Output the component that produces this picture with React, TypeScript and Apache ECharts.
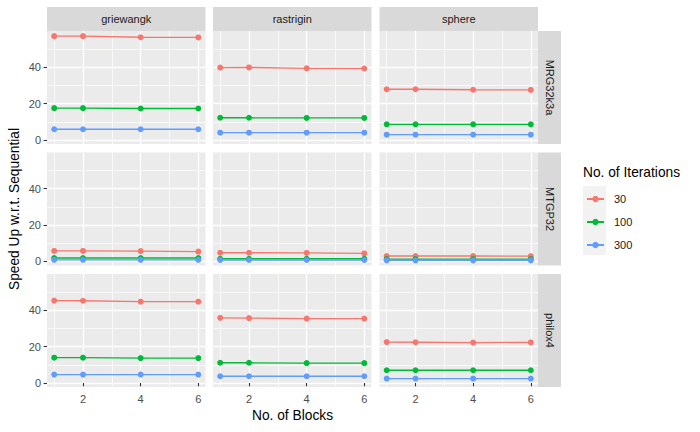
import React, { useEffect, useRef } from "react";
import * as echarts from "echarts";

const blocks = [1, 2, 4, 6];
const functionNames = ["griewangk", "rastrigin", "sphere"];
const generatorNames = ["MRG32k3a", "MTGP32", "philox4"];
const iterationLabels = ["30", "100", "300"];
const seriesColors = ["#F8766D", "#00BA38", "#619CFF"];
const yTicks = [0, 20, 40];
const yMinorTicks = [10, 30, 50];
const xTicks = [2, 4, 6];
const xMinorTicks = [1, 3, 5];

// each array: rows = iterations (30, 100, 300), columns = blocks (1, 2, 4, 6)
const mrg32k3aGriewangk = [[57.1, 57.1, 56.5, 56.4], [17.5, 17.5, 17.3, 17.3], [5.9, 5.9, 5.9, 5.9]];
const mrg32k3aRastrigin = [[39.8, 39.9, 39.4, 39.3], [12.2, 12.2, 12.1, 12.1], [4.0, 4.0, 4.0, 4.0]];
const mrg32k3aSphere = [[27.9, 27.9, 27.6, 27.5], [8.6, 8.6, 8.6, 8.6], [2.9, 2.9, 2.9, 2.9]];
const mtgp32Griewangk = [[5.8, 5.8, 5.7, 5.4], [1.9, 1.9, 1.9, 1.9], [0.9, 0.9, 0.9, 0.9]];
const mtgp32Rastrigin = [[4.8, 4.8, 4.7, 4.4], [1.5, 1.5, 1.5, 1.5], [0.8, 0.8, 0.8, 0.8]];
const mtgp32Sphere = [[3.0, 3.0, 3.0, 2.9], [1.3, 1.3, 1.3, 1.3], [0.6, 0.6, 0.6, 0.6]];
const philox4Griewangk = [[45.3, 45.2, 44.7, 44.7], [13.9, 13.9, 13.7, 13.7], [4.6, 4.6, 4.6, 4.6]];
const philox4Rastrigin = [[35.8, 35.7, 35.4, 35.4], [11.1, 11.1, 10.9, 10.9], [3.7, 3.7, 3.7, 3.7]];
const philox4Sphere = [[22.5, 22.4, 22.2, 22.3], [7.0, 7.0, 7.0, 7.0], [2.4, 2.4, 2.4, 2.4]];

const panelData = [
  [mrg32k3aGriewangk, mrg32k3aRastrigin, mrg32k3aSphere],
  [mtgp32Griewangk, mtgp32Rastrigin, mtgp32Sphere],
  [philox4Griewangk, philox4Rastrigin, philox4Sphere],
];

const FONT = "'Liberation Sans', Arial, sans-serif";
const colLefts = [47, 213, 379.5];
const panelW = 158.5;
const rowTops = [31, 152.5, 274];
const panelH = 113;

export default function App() {
  const ref = useRef<HTMLDivElement>(null);
  useEffect(() => {
    document.body.style.margin = "0";
    if (!ref.current) return;
    const chart = echarts.init(ref.current, undefined, { renderer: "svg" });

    const allVals = panelData.flat(3) as number[];
    const dMin = Math.min(...allVals);
    const dMax = Math.max(...allVals);
    const yMin = dMin - 0.05 * (dMax - dMin);
    const yMax = dMax + 0.05 * (dMax - dMin);
    const xMin = blocks[0] - 0.05 * (blocks[blocks.length - 1] - blocks[0]);
    const xMax = blocks[blocks.length - 1] + 0.05 * (blocks[blocks.length - 1] - blocks[0]);

    const grids: any[] = [];
    const xAxes: any[] = [];
    const yAxes: any[] = [];
    const series: any[] = [];
    const graphics: any[] = [];

    for (let r = 0; r < 3; r++) {
      for (let c = 0; c < 3; c++) {
        const g = grids.length;
        grids.push({
          left: colLefts[c],
          top: rowTops[r],
          width: panelW,
          height: panelH,
          show: true,
          backgroundColor: "#EBEBEB",
          borderWidth: 0,
        });
        const showX = r === 2;
        const showY = c === 0;
        xAxes.push({
          type: "value",
          gridIndex: g,
          min: xMin,
          max: xMax,
          position: "bottom",
          axisLine: { show: false },
          axisTick: { show: showX, customValues: xTicks, length: 3.4, lineStyle: { color: "#333333", width: 1.1 } },
          axisLabel: { show: showX, customValues: xTicks, color: "#4D4D4D", fontSize: 11, margin: 6, fontFamily: FONT },
          splitLine: { show: true, customValues: xTicks, lineStyle: { color: "#FFFFFF", width: 1.3 } },
        });
        xAxes.push({
          type: "value",
          gridIndex: g,
          min: xMin,
          max: xMax,
          position: "bottom",
          axisLine: { show: false },
          axisTick: { show: false, customValues: xMinorTicks },
          axisLabel: { show: false, customValues: xMinorTicks },
          splitLine: { show: true, customValues: xMinorTicks, lineStyle: { color: "#FFFFFF", width: 0.7 } },
        });
        yAxes.push({
          type: "value",
          gridIndex: g,
          min: yMin,
          max: yMax,
          position: "left",
          axisLine: { show: false },
          axisTick: { show: showY, customValues: yTicks, length: 3.4, lineStyle: { color: "#333333", width: 1.1 } },
          axisLabel: { show: showY, customValues: yTicks, color: "#4D4D4D", fontSize: 11, margin: 6, fontFamily: FONT },
          splitLine: { show: true, customValues: yTicks, lineStyle: { color: "#FFFFFF", width: 1.3 } },
        });
        yAxes.push({
          type: "value",
          gridIndex: g,
          min: yMin,
          max: yMax,
          position: "left",
          axisLine: { show: false },
          axisTick: { show: false, customValues: yMinorTicks },
          axisLabel: { show: false, customValues: yMinorTicks },
          splitLine: { show: true, customValues: yMinorTicks, lineStyle: { color: "#FFFFFF", width: 0.7 } },
        });
        const panel = panelData[r][c];
        for (let k = 0; k < iterationLabels.length; k++) {
          series.push({
            type: "line",
            name: iterationLabels[k],
            xAxisIndex: 2 * g,
            yAxisIndex: 2 * g,
            data: blocks.map((b, j) => [b, panel[k][j]]),
            symbol: "circle",
            symbolSize: 6,
            showSymbol: true,
            color: seriesColors[k],
            lineStyle: { width: 1.3, color: seriesColors[k] },
            itemStyle: { color: seriesColors[k] },
            z: 5,
            silent: true,
          });
        }
      }
    }

    for (let c = 0; c < 3; c++) {
      graphics.push({
        type: "rect",
        shape: { x: colLefts[c], y: 7, width: panelW, height: 24 },
        style: { fill: "#D9D9D9" },
        silent: true,
      });
      graphics.push({
        type: "text",
        x: colLefts[c] + panelW / 2,
        y: 19,
        style: {
          text: functionNames[c],
          fill: "#1A1A1A",
          font: `11px ${FONT}`,
          align: "center",
          verticalAlign: "middle",
        },
        silent: true,
      });
    }
    const stripX = colLefts[2] + panelW;
    for (let r = 0; r < 3; r++) {
      graphics.push({
        type: "rect",
        shape: { x: stripX, y: rowTops[r], width: 23, height: panelH },
        style: { fill: "#D9D9D9" },
        silent: true,
      });
      graphics.push({
        type: "text",
        x: stripX + 11.5,
        y: rowTops[r] + panelH / 2,
        rotation: -Math.PI / 2,
        style: {
          text: generatorNames[r],
          fill: "#1A1A1A",
          font: `11px ${FONT}`,
          align: "center",
          verticalAlign: "middle",
        },
        silent: true,
      });
    }
    graphics.push({
      type: "text",
      x: colLefts[0] + (colLefts[2] + panelW - colLefts[0]) / 2,
      y: 415,
      style: {
        text: "No. of Blocks",
        fill: "#000000",
        font: `13.75px ${FONT}`,
        align: "center",
        verticalAlign: "middle",
      },
      silent: true,
    });
    graphics.push({
      type: "text",
      x: 14,
      y: rowTops[0] + (rowTops[2] + panelH - rowTops[0]) / 2,
      rotation: Math.PI / 2,
      style: {
        text: "Speed Up w.r.t. Sequential",
        fill: "#000000",
        font: `13.75px ${FONT}`,
        align: "center",
        verticalAlign: "middle",
      },
      silent: true,
    });
    graphics.push({
      type: "text",
      x: 583,
      y: 172,
      style: {
        text: "No. of Iterations",
        fill: "#000000",
        font: `13.75px ${FONT}`,
        align: "left",
        verticalAlign: "middle",
      },
      silent: true,
    });
    graphics.push({
      type: "rect",
      shape: { x: 583, y: 186, width: 23, height: 69 },
      style: { fill: "#F2F2F2" },
      silent: true,
      z: -1,
    });

    const legendCenters = [197.5, 220.5, 243.5];
    const legends = iterationLabels.map((label, k) => ({
      data: [label],
      orient: "vertical",
      left: 586,
      top: legendCenters[k] - 4,
      itemWidth: 17,
      itemHeight: 8,
      padding: 0,
      textStyle: { fontSize: 11, color: "#1A1A1A", fontFamily: FONT, padding: [0, 0, 0, 5] },
      selectedMode: false,
    }));

    chart.setOption({
      animation: false,
      textStyle: { fontFamily: FONT },
      grid: grids,
      xAxis: xAxes,
      yAxis: yAxes,
      series,
      legend: legends,
      graphic: graphics,
    });
    return () => chart.dispose();
  }, []);
  return <div ref={ref} style={{ width: 700, height: 432 }} />;
}
